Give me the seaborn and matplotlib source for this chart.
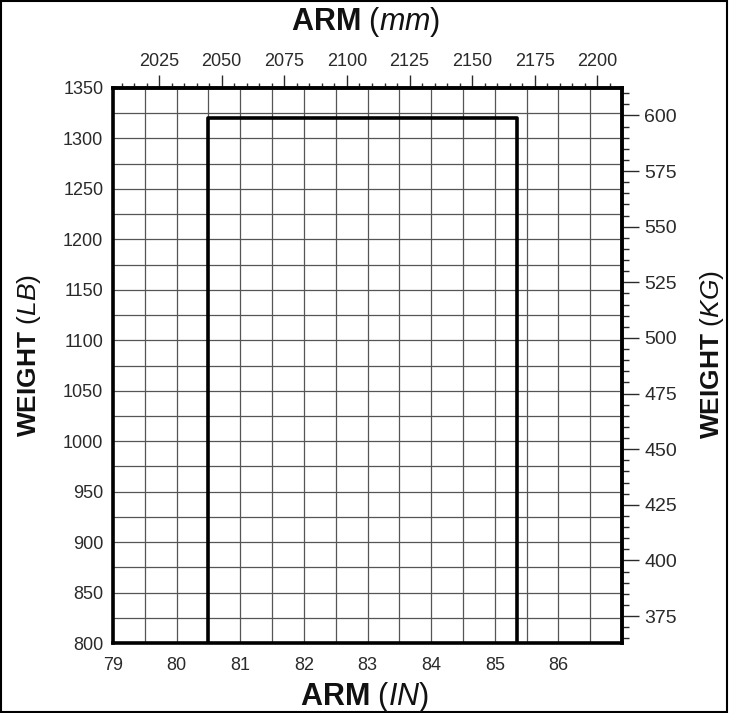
import numpy as np
import pandas as pd
import matplotlib
matplotlib.use("Agg")
import matplotlib.pyplot as plt
from matplotlib.ticker import MultipleLocator, FixedLocator
from matplotlib.patches import Rectangle
import seaborn as sns

# ---- data ----
env_arm_in = [80.5, 80.5, 85.35, 85.35]
env_weight_lb = [800, 1320, 1320, 800]
x_ticks_in = [79, 80, 81, 82, 83, 84, 85, 86]
y_ticks_lb = [800, 850, 900, 950, 1000, 1050, 1100, 1150, 1200, 1250, 1300, 1350]
top_ticks_mm = [2025, 2050, 2075, 2100, 2125, 2150, 2175, 2200]
right_ticks_kg = [375, 400, 425, 450, 475, 500, 525, 550, 575, 600]

sns.set_style("white")
plt.rcParams['font.family'] = ['Liberation Sans', 'DejaVu Sans']
plt.rcParams['mathtext.fontset'] = 'custom'
plt.rcParams['mathtext.rm'] = 'Liberation Sans'
plt.rcParams['mathtext.bf'] = 'Liberation Sans:bold'
plt.rcParams['mathtext.it'] = 'Liberation Sans:italic'

W, H = 731, 713
fig = plt.figure(figsize=(W / 100, H / 100), dpi=100)
ax = fig.add_axes([113 / W, 1 - 643 / H, (622 - 113) / W, (643 - 88) / H])

df = pd.DataFrame({"arm": env_arm_in, "weight": env_weight_lb})
sns.lineplot(data=df, x="arm", y="weight", sort=False, estimator=None,
             errorbar=None, color="black", linewidth=2.6, ax=ax, zorder=5)

ax.set_xlim(79, 87.0)
ax.set_ylim(800, 1350)

# grid
ax.xaxis.set_major_locator(FixedLocator(x_ticks_in))
ax.xaxis.set_minor_locator(MultipleLocator(0.5))
ax.yaxis.set_major_locator(FixedLocator(y_ticks_lb))
ax.yaxis.set_minor_locator(MultipleLocator(25))
ax.grid(which="both", color="#555555", linewidth=0.9)
ax.set_axisbelow(True)
ax.tick_params(which="both", length=0, labelsize=13, colors="#2a2a2a")
ax.tick_params(axis="x", pad=10)
ax.tick_params(axis="y", pad=7)
for s in ax.spines.values():
    s.set_linewidth(2.6)
    s.set_color("black")
ax.set_xlabel("")
ax.set_ylabel("")

# top axis in mm
secx = ax.secondary_xaxis("top", functions=(lambda x: x * 25.4, lambda x: x / 25.4))
secx.xaxis.set_major_locator(FixedLocator(top_ticks_mm))
secx.xaxis.set_minor_locator(MultipleLocator(5))
secx.tick_params(which="major", length=9.5, width=1.0, labelsize=13, pad=3.5, colors="#2a2a2a")
secx.tick_params(which="minor", length=3.5, width=1.0, colors="#2a2a2a")
secx.spines["top"].set_linewidth(2.6)

# right axis in kg
secy = ax.secondary_yaxis("right", functions=(lambda w: w * 0.453592, lambda k: k / 0.453592))
secy.yaxis.set_major_locator(FixedLocator(right_ticks_kg))
secy.yaxis.set_minor_locator(MultipleLocator(5))
secy.tick_params(which="major", length=12, width=1.0, labelsize=14, pad=4, colors="#2a2a2a")
secy.tick_params(which="minor", length=5, width=1.0, colors="#2a2a2a")
secy.spines["right"].set_linewidth(2.6)

# axis titles (bold name + italic unit)
fig.text(366 / W, 1 - 22 / H, r"$\mathbf{ARM}\ \mathit{(mm)}$", fontsize=22,
         ha="center", va="center", color="#111111")
fig.text(364 / W, 1 - 697 / H, r"$\mathbf{ARM}\ \mathit{(IN)}$", fontsize=22,
         ha="center", va="center", color="#111111")
fig.text(29 / W, 1 - 355 / H, r"$\mathbf{WEIGHT}\ \mathit{(LB)}$", fontsize=19,
         ha="center", va="center", rotation=90, color="#111111")
fig.text(712 / W, 1 - 355 / H, r"$\mathbf{WEIGHT}\ \mathit{(KG)}$", fontsize=19,
         ha="center", va="center", rotation=90, color="#111111")

# outer border
fig.patches.append(Rectangle((0.002, 0.001), 0.993, 0.997, transform=fig.transFigure,
                             fill=False, edgecolor="black", linewidth=1.5))

fig.savefig("out.png", dpi=100)
